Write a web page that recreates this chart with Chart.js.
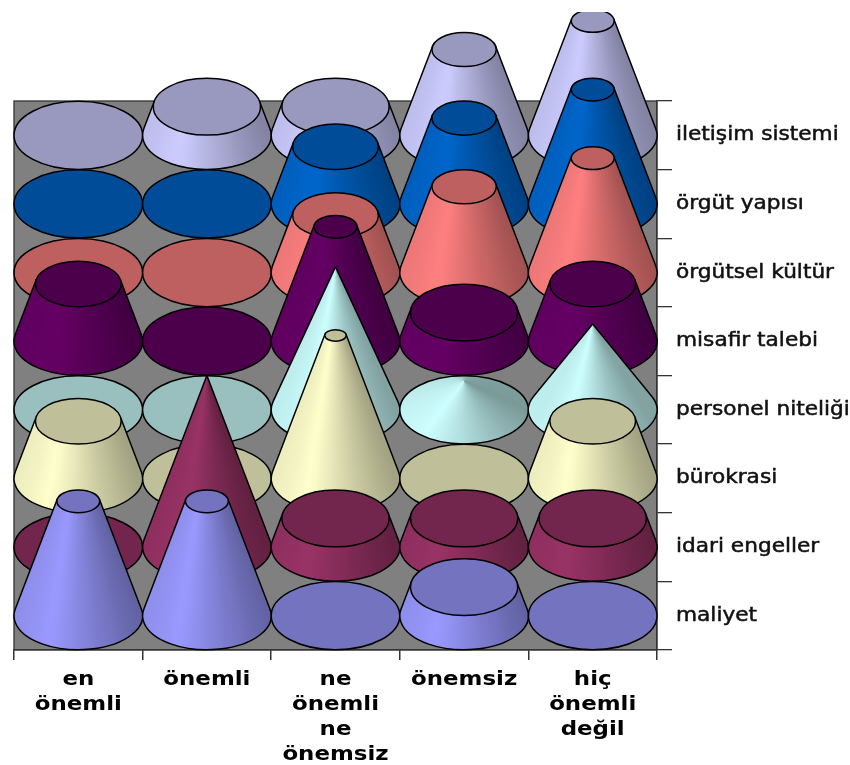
<!DOCTYPE html>
<html>
<head>
<meta charset="utf-8">
<style>html,body{margin:0;padding:0;background:#fff}canvas{display:block}</style>
<script src="https://cdn.jsdelivr.net/npm/chart.js@4"></script>
</head>
<body>
<canvas id="c" width="850" height="765"></canvas>
<script>
// Column headings along the bottom axis
const categories = [['en','önemli'],['önemli'],['ne','önemli','ne','önemsiz'],['önemsiz'],['hiç','önemli','değil']];
// Row names, back row first
const seriesNames = ['iletişim sistemi','örgüt yapısı','örgütsel kültür','misafir talebi','personel niteliği','bürokrasi','idari engeller','maliyet'];

// Response counts for each row
const iletisim  = [0,1,1,3,4];
const orgutYapi = [0,0,2,3,4];
const kultur    = [0,0,2,3,4];
const misafir   = [2,0,4,1,2];
const personel  = [0,0,5,1,3];
const burokrasi = [2,0,5,0,2];
const idari     = [0,6,1,1,1];
const maliyet   = [4,4,0,1,0];
const seriesValues = [iletisim,orgutYapi,kultur,misafir,personel,burokrasi,idari,maliyet];

// Side (lit) and cap colours per row
const sideColors = ['#CCCCFF','#0066CC','#FF8080','#660066','#CCFFFF','#FFFFCC','#993366','#9999FF'];
const capColors  = ['#9999BF','#004C99','#BF6060','#4C004C','#99BFBF','#BFBF99','#73264D','#7373BF'];
// Rows drawn as full cones instead of cones truncated towards the common peak
const pointedRows = ['personel niteliği'];

const peakValue = 6;      // all truncated cones narrow towards this value
const rowSpan = 2.4;      // value units covered by one row on the depth grid
const ellipseRatio = 0.53;

function shadeFactor(u){  // u: 0 left edge .. 1 right edge
  const pts = [[0,0.93],[0.27,1],[0.55,0.86],[1,0.64]];
  for(let i=1;i<pts.length;i++){
    if(u<=pts[i][0]){
      const [a,fa]=pts[i-1],[b,fb]=pts[i];
      return fa+(fb-fa)*(u-a)/(b-a);
    }
  }
  return pts[pts.length-1][1];
}
function shaded(hex,f){
  const n=parseInt(hex.slice(1),16);
  const c=[n>>16&255,n>>8&255,n&255].map(v=>Math.round(v*f));
  return `rgb(${c[0]},${c[1]},${c[2]})`;
}

class ConeElement extends Chart.BarElement {
  static id='cone';
  static defaults=Chart.BarElement.defaults;
  static defaultRoutes=Chart.BarElement.defaultRoutes;
  draw(ctx){
    const {x:cx,y:yt,base:yb,width}=this.getProps(['x','y','base','width']);
    const {side,cap,pointed,unitPx,value}=this.cone;
    const rx=width/2, ry=rx*ellipseRatio, h=yb-yt;
    ctx.save();
    ctx.strokeStyle='#000';
    ctx.lineWidth=1.5;
    ctx.lineJoin='round';
    if(value<=0){
      ctx.beginPath();ctx.ellipse(cx,yb,rx,ry,0,0,Math.PI*2);
      ctx.fillStyle=cap;ctx.fill();ctx.stroke();
      ctx.restore();return;
    }
    const hA=pointed?h:peakValue*unitPx;   // apex height above the base
    const k=pointed?0:Math.max(0,1-value/peakValue);
    const ay=yb-hA;
    if(hA<=ry){
      // Apex falls inside the base outline: shade all the way round it
      const start=Math.atan2(hA,rx);
      const g=ctx.createConicGradient(start,cx,ay);
      const round=[[0,0.6],[0.25,0.86],[0.36,1],[0.5,0.95],[0.75,0.72],[1,0.6]];
      for(const [t,f] of round){
        const th=t*Math.PI*2;
        const a=Math.atan2(ry*Math.sin(th)+hA,rx*Math.cos(th));
        let off=((a-start)%(Math.PI*2)+Math.PI*2)%(Math.PI*2)/(Math.PI*2);
        if(t===1) off=1;
        g.addColorStop(off,shaded(side,f));
      }
      ctx.beginPath();ctx.ellipse(cx,yb,rx,ry,0,0,Math.PI*2);
      ctx.fillStyle=g;ctx.fill();ctx.stroke();
      ctx.restore();return;
    }
    const y0=-ry*ry/hA, x0=rx*Math.sqrt(1-(ry/hA)*(ry/hA));
    const g=ctx.createConicGradient(0,cx,ay);
    g.addColorStop(0,shaded(side,shadeFactor(1)));
    for(let i=16;i>=0;i--){
      const u=i/16, px=-x0+2*x0*u;
      const py=ry*Math.sqrt(1-(px/rx)*(px/rx))+hA;
      g.addColorStop(Math.atan2(py,px)/(Math.PI*2),shaded(side,shadeFactor(u)));
    }
    g.addColorStop(1,shaded(side,shadeFactor(0)));
    const a=Math.atan2(y0/ry,x0/rx);
    ctx.beginPath();
    ctx.ellipse(cx,yb,rx,ry,0,a,Math.PI-a,false);
    ctx.lineTo(cx-x0*k,yt+y0*k);
    ctx.lineTo(cx+x0*k,yt+y0*k);
    ctx.closePath();
    ctx.fillStyle=g;ctx.fill();ctx.stroke();
    if(k>0){
      ctx.beginPath();ctx.ellipse(cx,yt,rx*k,ry*k,0,0,Math.PI*2);
      ctx.fillStyle=cap;ctx.fill();ctx.stroke();
    }
    ctx.restore();
  }
}

class ConeController extends Chart.BarController {
  static id='cone';
  static defaults={...Chart.BarController.defaults,dataElementType:'cone'};
  updateElements(rects,start,count,mode){
    super.updateElements(rects,start,count,mode);
    const ds=this.getDataset();
    const scale=this._cachedMeta.vScale;
    const unitPx=Math.abs(scale.getPixelForValue(1)-scale.getPixelForValue(0));
    for(let i=start;i<start+count;i++){
      rects[i].cone={side:ds.sideColor,cap:ds.capColor,pointed:ds.pointed,unitPx,value:ds.counts[i]};
    }
  }
}
Chart.register(ConeElement,ConeController);

// Widens an axis' tick text horizontally while keeping each label anchored in place
function widenLabels(scale,factor,pivot){
  if(scale.widened) return;
  scale.widened=true;
  const drawLabels=scale.drawLabels;
  scale.drawLabels=function(area){
    const ctx=this.ctx;
    const items=this.getLabelItems(area);
    const saved=items.map(it=>it.options.translation);
    items.forEach(it=>{
      const [x,y]=it.options.translation;
      it.options.translation=[pivot+(x-pivot)/factor,y];
    });
    ctx.save();
    ctx.translate(pivot,0);ctx.scale(factor,1);ctx.translate(-pivot,0);
    drawLabels.call(this,area);
    ctx.restore();
    items.forEach((it,i)=>{it.options.translation=saved[i];});
  };
}

const plotBackdrop={
  id:'plotBackdrop',
  beforeDraw(chart){
    const {ctx,chartArea:a}=chart;
    ctx.save();
    ctx.fillStyle='#808080';
    ctx.fillRect(a.left,a.top,a.width,a.height);
    ctx.strokeStyle='#333';
    ctx.lineWidth=1.3;
    ctx.strokeRect(a.left,a.top,a.width,a.height);
    ctx.restore();
    widenLabels(chart.scales.x,1.145,0);
    widenLabels(chart.scales.rows,1.14,676);
  }
};

const rowCount=seriesNames.length;
const datasets=seriesNames.map((name,i)=>{
  const fromFront=rowCount-1-i;
  const floor=(fromFront+0.5)*rowSpan;
  return {
    label:name,
    yAxisID:'val',
    order:fromFront,
    clip:{top:89,left:20,right:20,bottom:20},
    counts:seriesValues[i],
    sideColor:sideColors[i],
    capColor:capColors[i],
    pointed:pointedRows.includes(name),
    barPercentage:1,
    categoryPercentage:1,
    grouped:false,
    data:seriesValues[i].map(v=>[floor,floor+v])
  };
});

new Chart(document.getElementById('c'),{
  type:'cone',
  plugins:[plotBackdrop],
  data:{labels:categories,datasets},
  options:{
    responsive:false,
    animation:false,
    layout:{padding:{left:14,top:101,right:0,bottom:0}},
    plugins:{legend:{display:false},tooltip:{enabled:false}},
    scales:{
      x:{
        type:'category',offset:true,
        afterFit(s){s.height=115;},
        border:{color:'#333',width:1.3},
        grid:{offset:true,drawOnChartArea:false,color:'#333',lineWidth:1.5,tickLength:10},
        ticks:{color:'#000',maxRotation:0,autoSkip:false,padding:7,
          font:{family:'"DejaVu Sans"',size:20,weight:'bold',lineHeight:1.25}}
      },
      rows:{
        type:'category',axis:'y',position:'right',labels:seriesNames,offset:true,
        afterFit(s){s.width=193;},
        border:{color:'#333',width:1.3},
        grid:{offset:true,drawOnChartArea:false,color:'#333',lineWidth:1.3,tickLength:15},
        ticks:{color:'#111',autoSkip:false,padding:4,textStrokeColor:'#111',textStrokeWidth:0.5,
          font:{family:'"DejaVu Sans"',size:19}}
      },
      val:{type:'linear',axis:'y',display:false,min:0,max:rowCount*rowSpan}
    }
  }
});
</script>
</body>
</html>
